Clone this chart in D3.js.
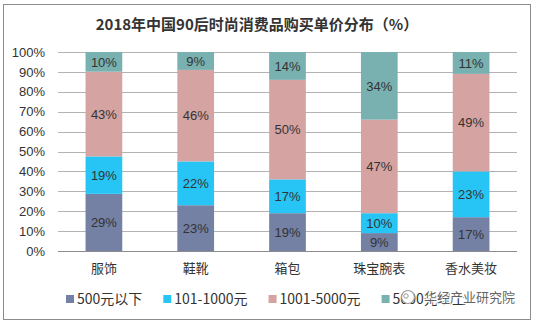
<!DOCTYPE html>
<html>
<head>
<meta charset="utf-8">
<script src="https://cdn.jsdelivr.net/npm/d3@7"></script>
<style>
  html, body { margin: 0; padding: 0; background: #fff; }
  svg { display: block; }
</style>
</head>
<body>
<svg id="chart" width="536" height="324"></svg>
<script>
// Categories and series shares (%) for each price band
const categories = ["服饰", "鞋靴", "箱包", "珠宝腕表", "香水美妆"];
const seriesNames = ["500元以下", "101-1000元", "1001-5000元", "5000元以上"];
const under500 = [29, 23, 19, 9, 17];
const band101to1000 = [19, 22, 17, 10, 23];
const band1001to5000 = [43, 46, 50, 47, 49];
const over5000 = [10, 9, 14, 34, 11];
const yTicks = [0, 0.1, 0.2, 0.3, 0.4, 0.5, 0.6, 0.7, 0.8, 0.9, 1.0];
const titleText = "2018年中国90后时尚消费品购买单价分布（%）";
const watermarkText = "华经产业研究院";

const seriesValues = [under500, band101to1000, band1001to5000, over5000];
const colors = ["#7480A4", "#27C5F5", "#D4A3A2", "#79B0B0"];

const rows = categories.map((c, i) => {
  const r = { cat: c };
  seriesNames.forEach((s, k) => { r[s] = seriesValues[k][i]; });
  return r;
});

const svg = d3.select("#chart");
const W = 536, H = 324;
const margin = { left: 58, right: 19, top: 52, bottom: 73 };
const plotW = W - margin.left - margin.right;
const plotH = H - margin.top - margin.bottom;

// Outer frame
svg.append("rect")
  .attr("x", 3.5).attr("y", 4.5)
  .attr("width", 527).attr("height", 315)
  .attr("fill", "#fff").attr("stroke", "#8c8c8c").attr("stroke-width", 1);

// Title
svg.append("text")
  .attr("x", 257).attr("y", 30)
  .attr("text-anchor", "middle")
  .attr("font-family", "'Noto Sans CJK SC', sans-serif")
  .attr("font-weight", "bold")
  .attr("font-size", 15)
  .attr("fill", "#333")
  .text(titleText);

const g = svg.append("g").attr("transform", `translate(${margin.left},${margin.top})`);

const x = d3.scaleBand().domain(categories).range([0, plotW])
  .paddingInner(0.6).paddingOuter(0.3);
const y = d3.scaleLinear().domain([0, 1]).range([plotH, 0]);

// Gridlines
g.append("g").selectAll("line").data(yTicks).join("line")
  .attr("x1", 0).attr("x2", plotW)
  .attr("y1", d => Math.round(y(d)) + 0.5).attr("y2", d => Math.round(y(d)) + 0.5)
  .attr("stroke", d => d === 0 ? "#8c8c8c" : "#b3b3b3").attr("stroke-width", 1);

// Y axis labels
const yAxis = d3.axisLeft(y).tickValues(yTicks).tickFormat(d3.format(".0%")).tickSize(0).tickPadding(13);
g.append("g").call(yAxis)
  .call(a => a.select(".domain").remove())
  .selectAll("text")
  .attr("font-family", "'Liberation Sans', Arial, sans-serif")
  .attr("font-size", 13)
  .attr("fill", "#333");

// Stacked, normalised bars
const stack = d3.stack().keys(seriesNames).offset(d3.stackOffsetExpand);
const layers = stack(rows);

const layerG = g.selectAll("g.layer").data(layers).join("g")
  .attr("class", "layer")
  .attr("fill", (d, i) => colors[i]);

layerG.selectAll("rect").data(d => d).join("rect")
  .attr("x", d => x(d.data.cat))
  .attr("width", x.bandwidth())
  .attr("y", d => y(d[1]))
  .attr("height", d => y(d[0]) - y(d[1]));

// Value labels
layerG.each(function(layer) {
  d3.select(this).selectAll("text").data(layer).join("text")
    .attr("x", d => x(d.data.cat) + x.bandwidth() / 2)
    .attr("y", d => (y(d[0]) + y(d[1])) / 2)
    .attr("dy", "0.36em")
    .attr("text-anchor", "middle")
    .attr("font-family", "'Liberation Sans', Arial, sans-serif")
    .attr("font-size", 13)
    .attr("fill", "#333")
    .text(d => d.data[layer.key] + "%");
});

// Category labels
const xAxis = d3.axisBottom(x).tickSize(0).tickPadding(13);
g.append("g").attr("transform", `translate(0,${plotH})`).call(xAxis)
  .call(a => a.select(".domain").remove())
  .selectAll("text")
  .attr("font-family", "'Noto Sans CJK SC', sans-serif")
  .attr("font-size", 13)
  .attr("fill", "#333");

// Legend
const legend = svg.append("g").attr("transform", "translate(66,299)");
let lx = 0;
seriesNames.forEach((name, i) => {
  const item = legend.append("g").attr("transform", `translate(${lx},0)`);
  item.append("rect").attr("x", 0).attr("y", -4).attr("width", 8).attr("height", 8)
    .attr("fill", colors[i]);
  const t = item.append("text").attr("x", 11).attr("y", 0).attr("dy", "0.36em")
    .attr("font-family", "'Noto Sans CJK SC', sans-serif")
    .attr("font-size", 14)
    .attr("fill", "#333")
    .text(name);
  lx += 11 + t.node().getComputedTextLength() + 21;
});

// Publisher mark
const wm = svg.append("g").attr("transform", "translate(408,297)");
wm.append("circle").attr("r", 6.5).attr("fill", "#fff").attr("stroke", "#9a9a9a").attr("stroke-width", 1.2);
wm.append("circle").attr("cx", -2).attr("cy", -1).attr("r", 2.2).attr("fill", "none").attr("stroke", "#9a9a9a");
wm.append("text").attr("x", 16).attr("y", 0).attr("dy", "0.36em")
  .attr("font-family", "'Noto Sans CJK SC', sans-serif")
  .attr("font-size", 13)
  .attr("fill", "#555")
  .attr("stroke", "#fff").attr("stroke-width", 2.5).attr("paint-order", "stroke")
  .attr("opacity", 0.9)
  .text(watermarkText);
</script>
</body>
</html>
